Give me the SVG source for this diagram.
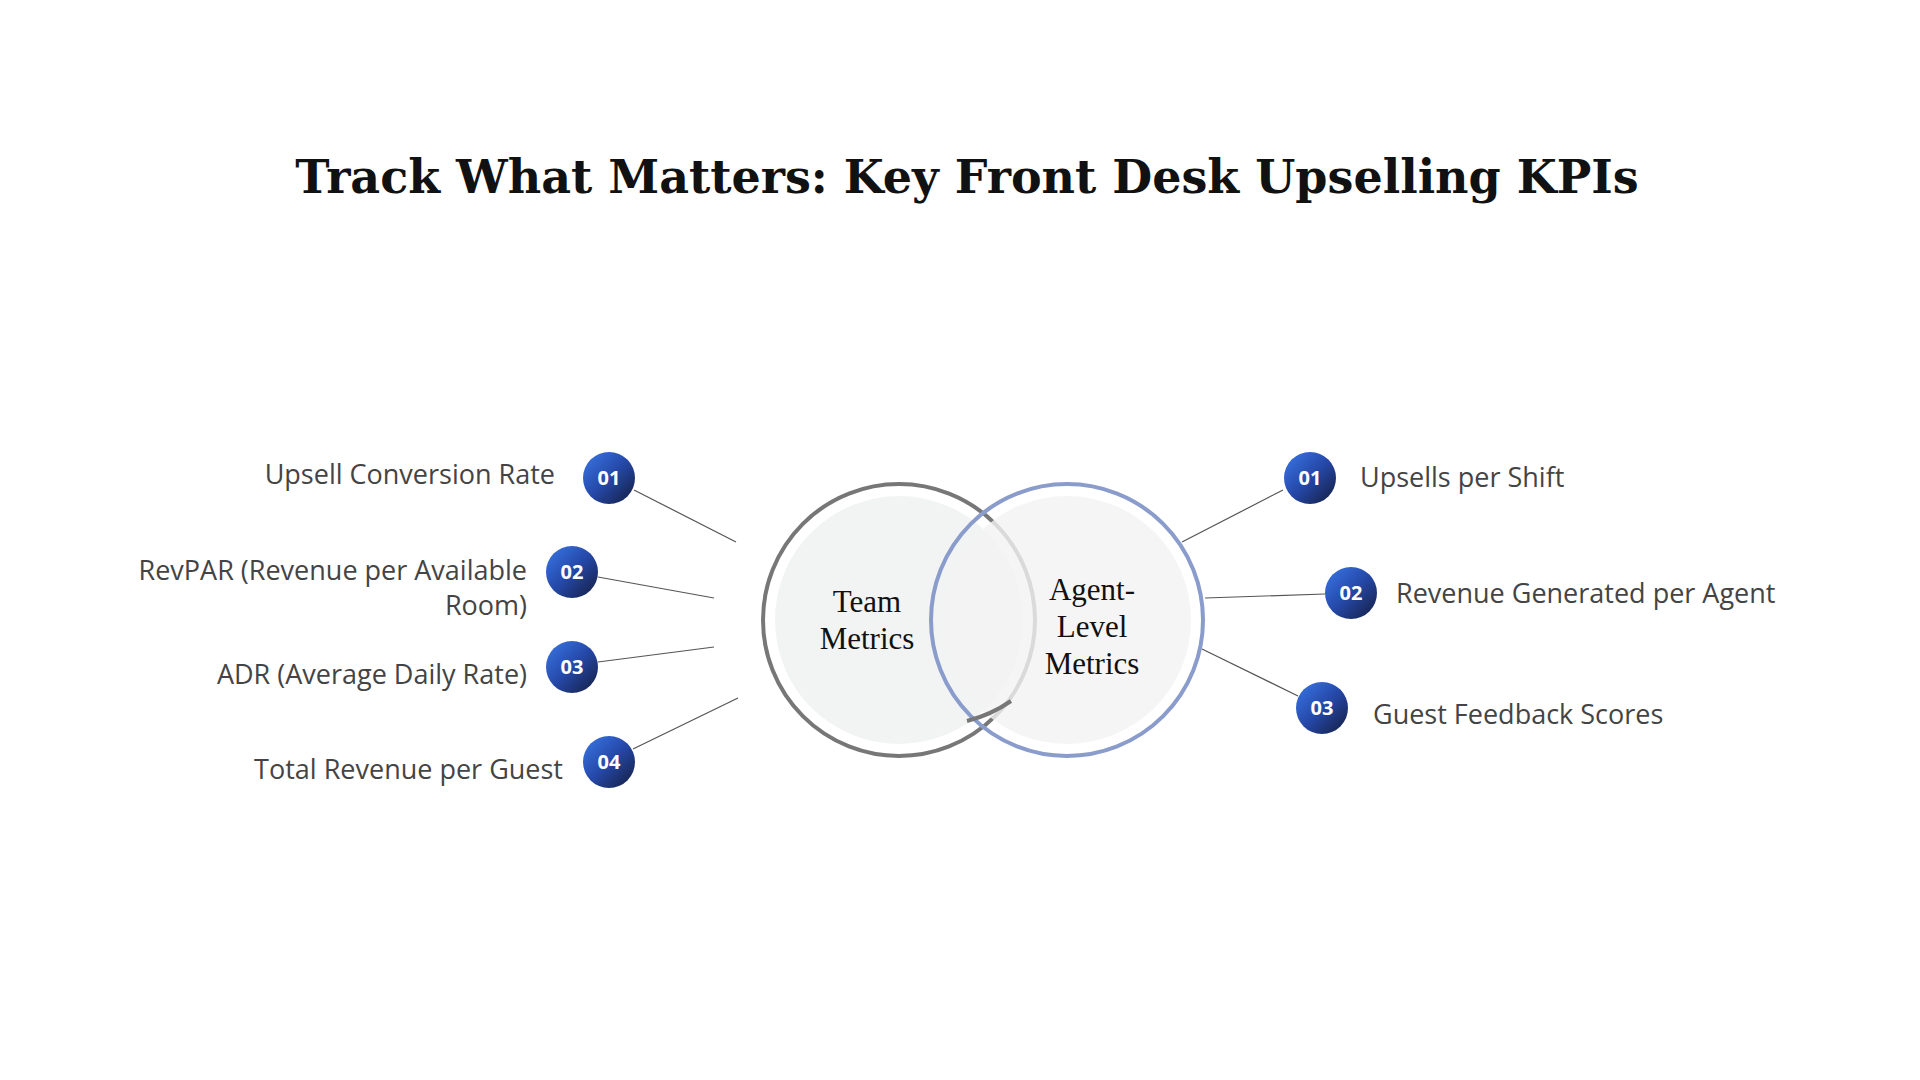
<svg xmlns="http://www.w3.org/2000/svg" width="1920" height="1080" viewBox="0 0 1920 1080">
<defs>
<linearGradient id="bg" x1="0" y1="0" x2="1" y2="1"><stop offset="0" stop-color="#3a78e8"/><stop offset="0.5" stop-color="#2548a8"/><stop offset="1" stop-color="#141c3c"/></linearGradient>
<style>
.lbl{font-family:"Open Sans",sans-serif;font-size:27px;fill:#444}
.num{font-family:"Open Sans",sans-serif;font-size:20px;font-weight:bold;fill:#fff;text-anchor:middle}
.ln{stroke:#555;stroke-width:1.2;fill:none}
.ctr{font-family:"Liberation Serif",serif;font-size:31px;fill:#111;text-anchor:middle}
</style>
</defs>
<rect width="1920" height="1080" fill="#fff"/>
<text x="967" y="193" text-anchor="middle" font-family="'DejaVu Serif',serif" font-weight="bold" font-size="46" fill="#111">Track What Matters: Key Front Desk Upselling KPIs</text>
<g id="venn">
<circle cx="899" cy="620" r="136" fill="none" stroke="#777" stroke-width="4"/>
<circle cx="899" cy="620" r="124" fill="#f2f3f3"/>
<circle cx="1067" cy="620" r="124" fill="#f2f3f3" fill-opacity="0.8"/>
<circle cx="1067" cy="620" r="136" fill="none" stroke="#8a9ccb" stroke-width="4"/>
<path d="M1011,701 A136,136 0 0 1 967,721" fill="none" stroke="#777" stroke-width="4"/>
</g>
<g id="team"><text class="ctr" x="867" y="612">Team</text><text class="ctr" x="867" y="649">Metrics</text></g>
<g id="agent"><text class="ctr" x="1092" y="600">Agent-</text><text class="ctr" x="1092" y="637">Level</text><text class="ctr" x="1092" y="674">Metrics</text></g>
<g id="connectors">
<line class="ln" x1="634" y1="490" x2="736" y2="542"/>
<line class="ln" x1="598" y1="577" x2="714" y2="598"/>
<line class="ln" x1="598" y1="662" x2="714" y2="647"/>
<line class="ln" x1="633" y1="749" x2="738" y2="698"/>
<line class="ln" x1="1283" y1="490" x2="1182" y2="542"/>
<line class="ln" x1="1325" y1="594" x2="1205" y2="598"/>
<line class="ln" x1="1298" y1="696" x2="1202" y2="649"/>
</g>
<g id="l1"><circle cx="609" cy="478" r="26" fill="url(#bg)"/><text class="num" x="609" y="485">01</text><text class="lbl" x="555" y="484" text-anchor="end">Upsell Conversion Rate</text></g>
<g id="l2"><circle cx="572" cy="572" r="26" fill="url(#bg)"/><text class="num" x="572" y="579">02</text><text class="lbl" x="527" y="580" text-anchor="end">RevPAR (Revenue per Available</text><text class="lbl" x="527" y="615" text-anchor="end">Room)</text></g>
<g id="l3"><circle cx="572" cy="667" r="26" fill="url(#bg)"/><text class="num" x="572" y="674">03</text><text class="lbl" x="527" y="684" text-anchor="end">ADR (Average Daily Rate)</text></g>
<g id="l4"><circle cx="609" cy="762" r="26" fill="url(#bg)"/><text class="num" x="609" y="769">04</text><text class="lbl" x="563" y="779" text-anchor="end">Total Revenue per Guest</text></g>
<g id="r1"><circle cx="1310" cy="478" r="26" fill="url(#bg)"/><text class="num" x="1310" y="485">01</text><text class="lbl" x="1360" y="487">Upsells per Shift</text></g>
<g id="r2"><circle cx="1351" cy="593" r="26" fill="url(#bg)"/><text class="num" x="1351" y="600">02</text><text class="lbl" x="1396" y="603">Revenue Generated per Agent</text></g>
<g id="r3"><circle cx="1322" cy="708" r="26" fill="url(#bg)"/><text class="num" x="1322" y="715">03</text><text class="lbl" x="1373" y="724">Guest Feedback Scores</text></g>
</svg>
